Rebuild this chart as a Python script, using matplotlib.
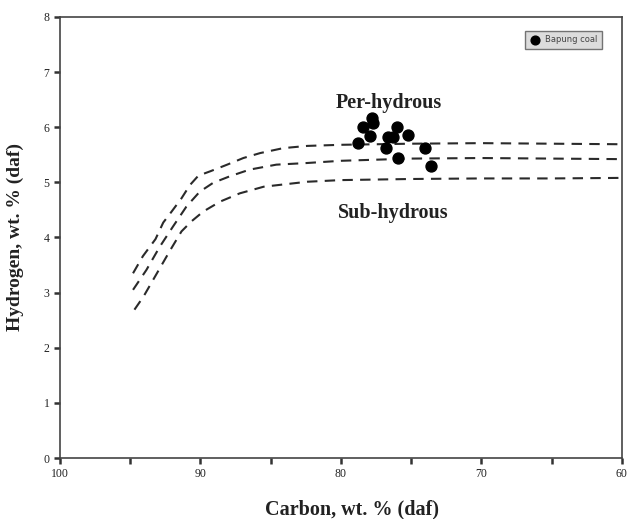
import matplotlib
matplotlib.use("Agg")
import matplotlib.pyplot as plt
from matplotlib.ticker import MultipleLocator

# Boundary curves (Carbon, Hydrogen)
upper_c = [94.8, 94.1, 93.2, 92.65, 92.05, 91.35, 90.75, 90.15, 89.3, 88.1, 86.95, 85.75, 84.1, 82.4, 80, 75, 70, 65, 60]
upper_h = [3.35, 3.66, 3.97, 4.27, 4.47, 4.71, 4.95, 5.12, 5.2, 5.32, 5.44, 5.53, 5.62, 5.66, 5.68, 5.7, 5.71, 5.7, 5.69]
middle_c = [94.8, 93.85, 92.9, 91.95, 91.0, 90.05, 89.1, 87.9, 86.5, 84.6, 82.4, 80, 75, 70, 65, 60]
middle_h = [3.05, 3.41, 3.83, 4.2, 4.56, 4.83, 4.99, 5.11, 5.23, 5.32, 5.35, 5.39, 5.43, 5.44, 5.43, 5.42]
lower_c = [94.7, 94.05, 93.1, 92.15, 91.35, 90.65, 89.8, 88.6, 87.2, 85.5, 82.4, 80, 75, 70, 65, 60]
lower_h = [2.69, 2.93, 3.35, 3.77, 4.11, 4.29, 4.47, 4.65, 4.8, 4.92, 5.01, 5.04, 5.06, 5.07, 5.07, 5.08]

# Bapung coal samples
coal_c = [77.82, 77.74, 78.41, 77.94, 78.81, 76.04, 76.63, 76.28, 75.21, 76.80, 75.96, 74.02, 73.59]
coal_h = [6.17, 6.07, 6.01, 5.84, 5.72, 6.00, 5.82, 5.83, 5.85, 5.62, 5.44, 5.62, 5.29]

x_ticks = [100, 90, 80, 70, 60]
y_ticks = [0, 1, 2, 3, 4, 5, 6, 7, 8]

fig = plt.figure(figsize=(6.3, 5.19), dpi=100)
ax = fig.add_axes([0.0952, 0.1175, 0.892, 0.850])

serif = "Liberation Serif"
dash = (0, (5, 3.5))
for c, h in [(upper_c, upper_h), (middle_c, middle_h), (lower_c, lower_h)]:
    ax.plot(c, h, linestyle=dash, color="#2a2a2a", linewidth=1.5)

ax.scatter(coal_c, coal_h, s=62, color="black", zorder=3, label="Bapung coal")

ax.set_xlim(100, 60)
ax.set_ylim(0, 8)
ax.set_xticks(x_ticks)
ax.xaxis.set_minor_locator(MultipleLocator(5))
ax.set_yticks(y_ticks)
ax.tick_params(axis="both", which="both", direction="out", length=4, width=1.8, color="#333333",
               labelsize=8.5, labelcolor="#222222")
for lab in ax.get_xticklabels() + ax.get_yticklabels():
    lab.set_fontfamily(serif)
for sp in ax.spines.values():
    sp.set_color("#444444")
    sp.set_linewidth(1.2)

ax.text(76.6, 6.43, "Per-hydrous", fontfamily=serif, fontweight="bold", fontsize=14.5,
        ha="center", va="center", color="#222222")
ax.text(76.3, 4.45, "Sub-hydrous", fontfamily=serif, fontweight="bold", fontsize=14.5,
        ha="center", va="center", color="#222222")

ax.set_xlabel("Carbon, wt. % (daf)", fontfamily=serif, fontweight="bold", fontsize=14.5,
              color="#222222")
ax.xaxis.set_label_coords(0.52, -0.095)
ax.set_ylabel("Hydrogen, wt. % (daf)", fontfamily=serif, fontweight="bold", fontsize=14,
              color="#222222", labelpad=14)

leg = ax.legend(loc="upper right", bbox_to_anchor=(0.972, 0.978), fontsize=6,
                frameon=True, fancybox=False, handletextpad=0.6, borderpad=0.55,
                markerscale=0.8, handlelength=1.3, labelcolor="#444444")
leg.get_frame().set_facecolor("#d4d4d4")
leg.get_frame().set_edgecolor("#555555")
leg.get_frame().set_linewidth(1.0)

fig.savefig("out.png", dpi=100)
